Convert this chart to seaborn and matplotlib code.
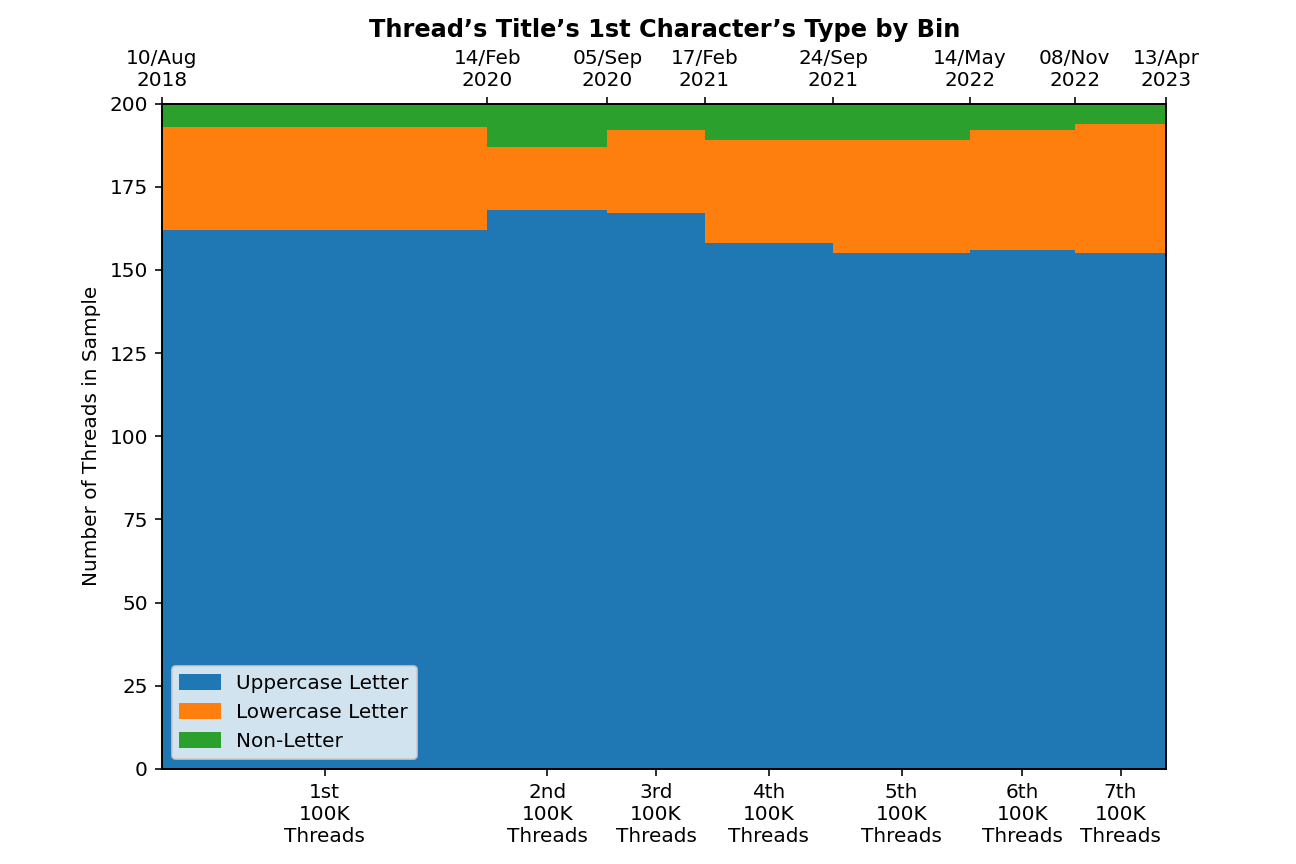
import pandas as pd
import seaborn as sns
import matplotlib
matplotlib.use("Agg")
from matplotlib import pyplot as plt
from matplotlib.patches import Patch
import matplotlib.dates as mdates

BIN_EDGES = ["2018-08-10", "2020-02-14", "2020-09-05", "2021-02-17",
             "2021-09-24", "2022-05-14", "2022-11-08", "2023-04-13"]
BIN_LABELS = ["1st", "2nd", "3rd", "4th", "5th", "6th", "7th"]
TYPES = ["Uppercase Letter", "Lowercase Letter", "Non-Letter"]
UPPERCASE = [162, 168, 167, 158, 155, 156, 155]
LOWERCASE = [31, 19, 25, 31, 34, 36, 39]
NON_LETTER = [7, 13, 8, 11, 11, 8, 6]
COLORS = {"Uppercase Letter": "#1f77b4", "Lowercase Letter": "#ff7f0e", "Non-Letter": "#2ca02c"}


def main():
    edges = list(mdates.date2num(pd.to_datetime(BIN_EDGES)))
    mids = [(a + b) / 2 for a, b in zip(edges[:-1], edges[1:])]

    rows = []
    for name, counts in zip(TYPES, [UPPERCASE, LOWERCASE, NON_LETTER]):
        for m, c in zip(mids, counts):
            rows.append({"x": m, "count": c, "type": name})
    df = pd.DataFrame(rows)

    fig, ax = plt.subplots(figsize=(9, 6), dpi=144)
    sns.histplot(
        data=df, x="x", weights="count", hue="type",
        hue_order=TYPES[::-1], bins=edges, multiple="stack",
        element="bars", alpha=1, linewidth=0, palette=COLORS,
        legend=False, ax=ax,
    )
    ax.set_xlim(edges[0], edges[-1])
    ax.set_ylim(0, 200)
    ax.set_xticks(mids)
    ax.set_xticklabels([f"{b}\n100K\nThreads" for b in BIN_LABELS])
    ax.set_xlabel("")
    ax.set_ylabel("Number of Threads in Sample")

    top = ax.twiny()
    top.set_xlim(ax.get_xlim())
    top.set_xticks(edges)
    top.set_xticklabels([d.strftime("%d/%b\n%Y") for d in pd.to_datetime(BIN_EDGES)])

    handles = [Patch(color=COLORS[t], label=t) for t in TYPES]
    ax.legend(handles=handles, loc="lower left")
    ax.set_title("Thread\u2019s Title\u2019s 1st Character\u2019s Type by Bin", fontweight="bold")

    fig.savefig("out.png", dpi=144)


if __name__ == "__main__":
    main()
